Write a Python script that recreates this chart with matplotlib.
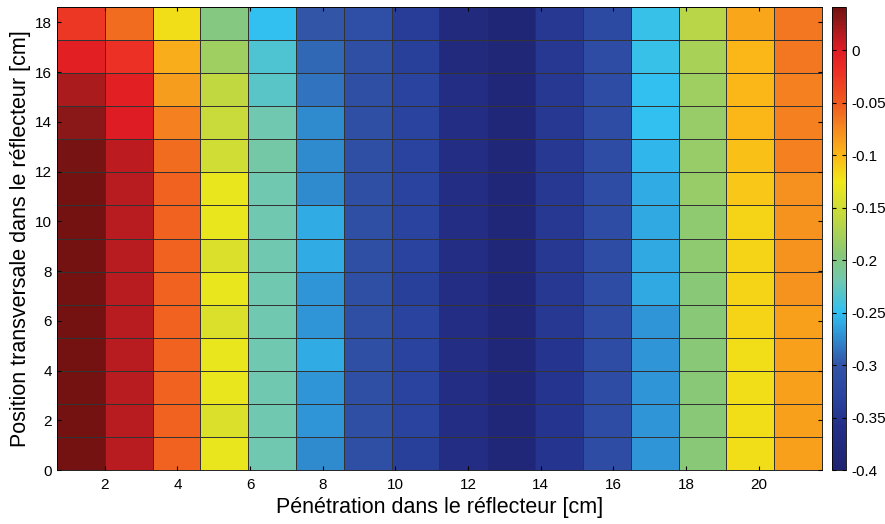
import numpy as np
import matplotlib
matplotlib.use('Agg')
import matplotlib.pyplot as plt
from matplotlib.colors import LinearSegmentedColormap, Normalize

plt.rcParams['font.family'] = ['Liberation Sans', 'DejaVu Sans']

# bords des mailles [cm]
x_edges = [0.684, 2.0, 3.316, 4.632, 5.948, 7.264, 8.58, 9.896, 11.212,
           12.528, 13.844, 15.16, 16.476, 17.792, 19.108, 20.424, 21.74]
y_edges = [0.0, 1.33, 2.66, 3.99, 5.32, 6.65, 7.98, 9.31, 10.64,
           11.97, 13.3, 14.63, 15.96, 17.29, 18.62]

# valeurs par colonne (de bas en haut, 14 lignes)
col01 = [0.04, 0.04, 0.04, 0.04, 0.04, 0.04, 0.04, 0.04, 0.04, 0.038, 0.03, 0.02, -0.005, -0.025]
col02 = [0.015, 0.015, 0.015, 0.015, 0.015, 0.015, 0.015, 0.015, 0.015, 0.013, 0.0, -0.005, -0.02, -0.06]
col03 = [-0.055, -0.055, -0.055, -0.055, -0.055, -0.055, -0.055, -0.055, -0.055, -0.06, -0.07, -0.085, -0.095, -0.12]
col04 = [-0.13, -0.14, -0.13, -0.13, -0.14, -0.13, -0.14, -0.13, -0.13, -0.15, -0.155, -0.16, -0.18, -0.2]
col05 = [-0.22, -0.22, -0.22, -0.22, -0.22, -0.22, -0.22, -0.22, -0.22, -0.215, -0.22, -0.23, -0.235, -0.25]
col06 = [-0.275, -0.27, -0.27, -0.26, -0.27, -0.27, -0.26, -0.26, -0.275, -0.275, -0.275, -0.285, -0.29, -0.3]
col07 = [-0.31, -0.31, -0.31, -0.31, -0.31, -0.31, -0.31, -0.31, -0.31, -0.31, -0.31, -0.31, -0.31, -0.312]
col08 = [-0.335, -0.33, -0.33, -0.33, -0.33, -0.335, -0.33, -0.33, -0.33, -0.33, -0.33, -0.33, -0.335, -0.338]
col09 = [-0.365, -0.365, -0.365, -0.365, -0.365, -0.365, -0.365, -0.365, -0.365, -0.365, -0.365, -0.365, -0.375, -0.375]
col10 = [-0.385, -0.385, -0.385, -0.385, -0.385, -0.385, -0.385, -0.385, -0.385, -0.385, -0.385, -0.385, -0.388, -0.39]
col11 = [-0.35, -0.35, -0.35, -0.35, -0.345, -0.345, -0.345, -0.345, -0.345, -0.345, -0.345, -0.345, -0.345, -0.345]
col12 = [-0.315, -0.315, -0.315, -0.315, -0.315, -0.315, -0.315, -0.315, -0.315, -0.315, -0.315, -0.315, -0.315, -0.318]
col13 = [-0.27, -0.27, -0.27, -0.27, -0.27, -0.262, -0.262, -0.262, -0.26, -0.255, -0.25, -0.25, -0.245, -0.245]
col14 = [-0.195, -0.195, -0.195, -0.195, -0.195, -0.195, -0.19, -0.19, -0.185, -0.185, -0.185, -0.18, -0.175, -0.165]
col15 = [-0.12, -0.12, -0.12, -0.12, -0.115, -0.115, -0.115, -0.115, -0.108, -0.105, -0.1, -0.1, -0.1, -0.09]
col16 = [-0.088, -0.088, -0.088, -0.088, -0.088, -0.08, -0.08, -0.08, -0.078, -0.07, -0.07, -0.07, -0.065, -0.065]

values = np.array([col01, col02, col03, col04, col05, col06, col07, col08,
                   col09, col10, col11, col12, col13, col14, col15, col16]).T

vmin, vmax = -0.4, 0.041

# palette type "jet" un peu ternie (impression)
stops = [(-0.40, '#1e2470'), (-0.36, '#232e86'), (-0.33, '#2a44a0'),
         (-0.30, '#3254a8'), (-0.27, '#3096d6'), (-0.25, '#30c0f0'),
         (-0.22, '#70c8b0'), (-0.195, '#88c878'), (-0.16, '#c0d840'),
         (-0.125, '#f0e818'), (-0.10, '#fbb818'), (-0.075, '#f58a20'),
         (-0.05, '#f05a20'), (-0.02, '#ec3026'), (0.0, '#e01c24'),
         (0.015, '#b81c20'), (0.03, '#8c1818'), (0.041, '#741212')]
cmap = LinearSegmentedColormap.from_list(
    'jet_print', [((v - vmin) / (vmax - vmin), c) for v, c in stops])

fig = plt.figure(figsize=(8.85, 5.24), dpi=100)
ax = fig.add_axes([0.0644, 0.103, 0.8644, 0.8836])
cax = fig.add_axes([0.940, 0.103, 0.016, 0.8836])

mesh = ax.pcolormesh(x_edges, y_edges, values, cmap=cmap,
                     norm=Normalize(vmin, vmax),
                     edgecolors='#333333', linewidth=0.7)
ax.set_xlim(x_edges[0], x_edges[-1])
ax.set_ylim(y_edges[0], y_edges[-1])
ax.set_xticks(range(2, 21, 2))
ax.set_yticks(range(0, 19, 2))
ax.tick_params(direction='in', labelsize=11, length=3, top=True, right=True)
ax.tick_params(axis='x', pad=6)
ax.set_xlabel('Pénétration dans le réflecteur [cm]', fontsize=15.5, labelpad=3)
ax.set_ylabel('Position transversale dans le réflecteur [cm]', fontsize=15.5, labelpad=3)
for s in ax.spines.values():
    s.set_linewidth(0.6)

cb = fig.colorbar(mesh, cax=cax)
cb.set_ticks([0, -0.05, -0.1, -0.15, -0.2, -0.25, -0.3, -0.35, -0.4])
cb.set_ticklabels(['0', '-0.05', '-0.1', '-0.15', '-0.2', '-0.25', '-0.3', '-0.35', '-0.4'])
cb.ax.tick_params(direction='in', labelsize=11, length=3, left=True, right=True)
cb.outline.set_linewidth(0.6)

fig.savefig('out.png', dpi=100)
